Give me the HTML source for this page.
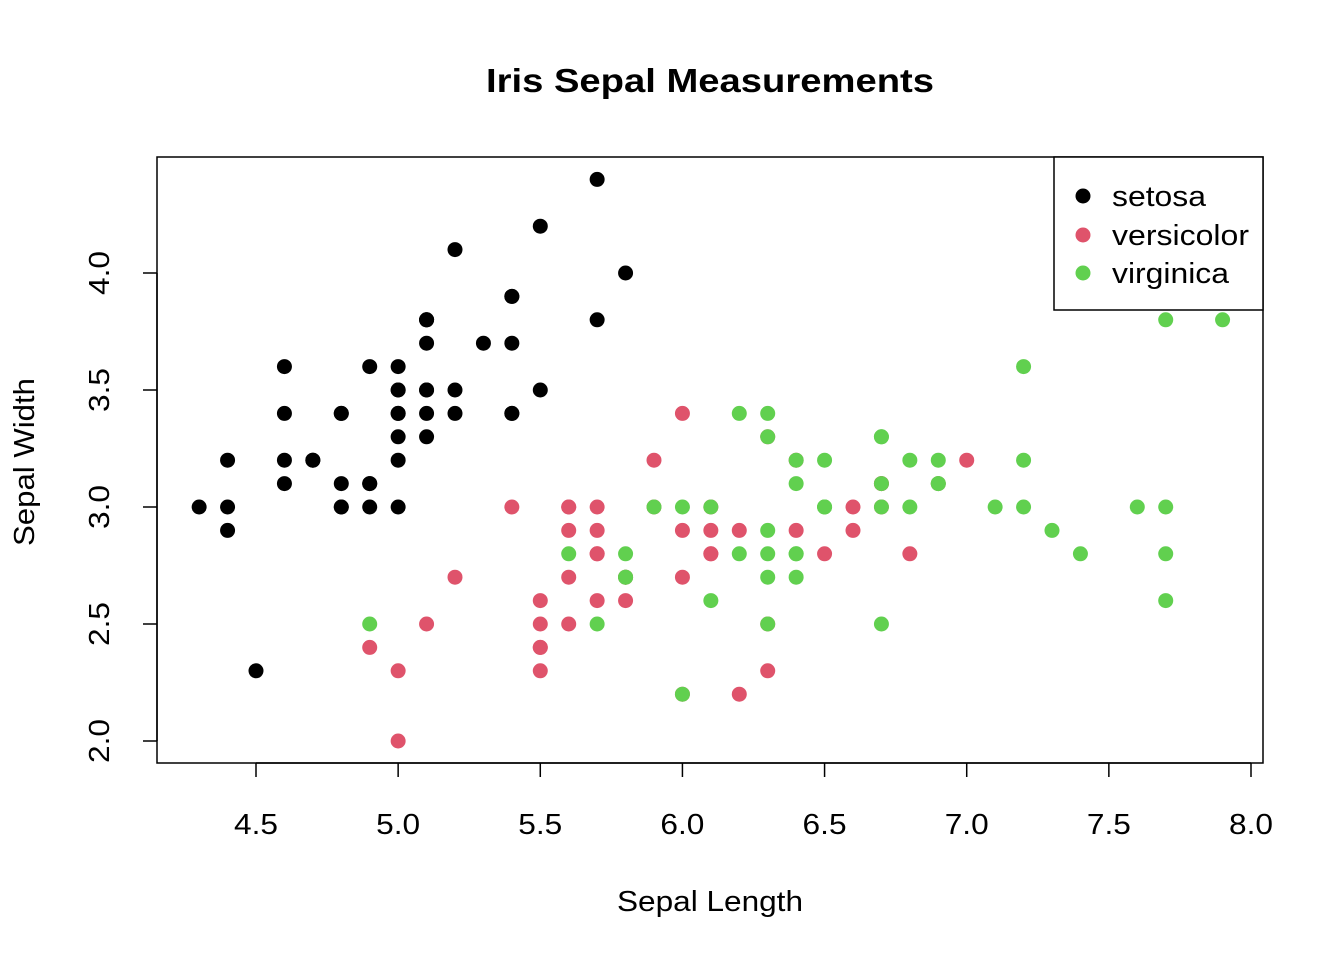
<!DOCTYPE html>
<html><head><meta charset="utf-8"><style>
html,body{margin:0;padding:0;background:#fff;}
svg{display:block;font-family:"Liberation Sans",Arial,sans-serif;}
</style></head><body>
<svg id="chart" width="1344" height="960" viewBox="0 0 1344 960">
<rect width="1344" height="960" fill="#fff"/>
<text x="710" y="92" text-anchor="middle" font-size="33" font-weight="bold" textLength="448" lengthAdjust="spacingAndGlyphs">Iris Sepal Measurements</text>
<text x="710" y="911" text-anchor="middle" font-size="29" textLength="186" lengthAdjust="spacingAndGlyphs">Sepal Length</text>
<text transform="translate(34,462) rotate(-90)" text-anchor="middle" font-size="29" textLength="168" lengthAdjust="spacingAndGlyphs">Sepal Width</text>
<g id="marks"></g>
<g id="axes"></g>
<rect x="157" y="157" width="1106" height="606" fill="none" stroke="#000" stroke-width="1.5"/>
<g>
<rect x="1054" y="157" width="209" height="153" fill="#fff" stroke="#000" stroke-width="1.5"/>
<g><circle cx="1083" cy="196" r="7.5" fill="#000"/><text x="1112" y="206" font-size="29" textLength="94" lengthAdjust="spacingAndGlyphs">setosa</text></g>
<g><circle cx="1083" cy="235" r="7.5" fill="#DF536B"/><text x="1112" y="245" font-size="29" textLength="137" lengthAdjust="spacingAndGlyphs">versicolor</text></g>
<g><circle cx="1083" cy="273" r="7.5" fill="#61D04F"/><text x="1112" y="283" font-size="29" textLength="117" lengthAdjust="spacingAndGlyphs">virginica</text></g>
</g>
</svg>
<script>
const setosaX=[5.1,4.9,4.7,4.6,5.0,5.4,4.6,5.0,4.4,4.9,5.4,4.8,4.8,4.3,5.8,5.7,5.4,5.1,5.7,5.1,5.4,5.1,4.6,5.1,4.8,5.0,5.0,5.2,5.2,4.7,4.8,5.4,5.2,5.5,4.9,5.0,5.5,4.9,4.4,5.1,5.0,4.5,4.4,5.0,5.1,4.8,5.1,4.6,5.3,5.0];
const setosaY=[3.5,3.0,3.2,3.1,3.6,3.9,3.4,3.4,2.9,3.1,3.7,3.4,3.0,3.0,4.0,4.4,3.9,3.5,3.8,3.8,3.4,3.7,3.6,3.3,3.4,3.0,3.4,3.5,3.4,3.2,3.1,3.4,4.1,4.2,3.1,3.2,3.5,3.6,3.0,3.4,3.5,2.3,3.2,3.5,3.8,3.0,3.8,3.2,3.7,3.3];
const versicolorX=[7.0,6.4,6.9,5.5,6.5,5.7,6.3,4.9,6.6,5.2,5.0,5.9,6.0,6.1,5.6,6.7,5.6,5.8,6.2,5.6,5.9,6.1,6.3,6.1,6.4,6.6,6.8,6.7,6.0,5.7,5.5,5.5,5.8,6.0,5.4,6.0,6.7,6.3,5.6,5.5,5.5,6.1,5.8,5.0,5.6,5.7,5.7,6.2,5.1,5.7];
const versicolorY=[3.2,3.2,3.1,2.3,2.8,2.8,3.3,2.4,2.9,2.7,2.0,3.0,2.2,2.9,2.9,3.1,3.0,2.7,2.2,2.5,3.2,2.8,2.5,2.8,2.9,3.0,2.8,3.0,2.9,2.6,2.4,2.4,2.7,2.7,3.0,3.4,3.1,2.3,3.0,2.5,2.6,3.0,2.6,2.3,2.7,3.0,2.9,2.9,2.5,2.8];
const virginicaX=[6.3,5.8,7.1,6.3,6.5,7.6,4.9,7.3,6.7,7.2,6.5,6.4,6.8,5.7,5.8,6.4,6.5,7.7,7.7,6.0,6.9,5.6,7.7,6.3,6.7,7.2,6.2,6.1,6.4,7.2,7.4,7.9,6.4,6.3,6.1,7.7,6.3,6.4,6.0,6.9,6.7,6.9,5.8,6.8,6.7,6.7,6.3,6.5,6.2,5.9];
const virginicaY=[3.3,2.7,3.0,2.9,3.0,3.0,2.5,2.9,2.5,3.6,3.2,2.7,3.0,2.5,2.8,3.2,3.0,3.8,2.6,2.2,3.2,2.8,2.8,2.7,3.3,3.2,2.8,3.0,2.8,3.0,2.8,3.8,2.8,2.8,2.6,3.0,3.4,3.1,3.0,3.1,3.1,3.1,2.7,3.2,3.3,3.0,2.5,3.0,3.4,3.0];
const xTicks=["4.5","5.0","5.5","6.0","6.5","7.0","7.5","8.0"];
const yTicks=["2.0","2.5","3.0","3.5","4.0"];
const NS="http://www.w3.org/2000/svg";
function sx(v){return 256+(v-4.5)*(1251-256)/3.5;}
function sy(v){return 741-(v-2.0)*(741-273)/2.0;}
const marks=document.getElementById('marks');
const axes=document.getElementById('axes');
function drawSeries(xs,ys,color,name){
  for(let i=0;i<xs.length;i++){
    const c=document.createElementNS(NS,'circle');
    c.setAttribute('cx',sx(xs[i]));c.setAttribute('cy',sy(ys[i]));
    c.setAttribute('r',7.5);c.setAttribute('fill',color);
    
    
    marks.appendChild(c);
  }
}
drawSeries(setosaX,setosaY,'#000','setosa');
drawSeries(versicolorX,versicolorY,'#DF536B','versicolor');
drawSeries(virginicaX,virginicaY,'#61D04F','virginica');
function line(x1,y1,x2,y2){const l=document.createElementNS(NS,'line');l.setAttribute('x1',x1);l.setAttribute('y1',y1);l.setAttribute('x2',x2);l.setAttribute('y2',y2);l.setAttribute('stroke','#000');l.setAttribute('stroke-width','1.5');return l;}
const xa=line(sx(+xTicks[0]),763,sx(+xTicks[xTicks.length-1]),763);


axes.appendChild(xa);
xTicks.forEach(t=>{
  const x=sx(+t);
  const tk=line(x,763,x,777);
  
  
  axes.appendChild(tk);
  const tx=document.createElementNS(NS,'text');
  tx.setAttribute('x',x);tx.setAttribute('y',834);tx.setAttribute('text-anchor','middle');tx.setAttribute('font-size','29');
  tx.setAttribute('textLength','44');tx.setAttribute('lengthAdjust','spacingAndGlyphs');
  tx.textContent=t;
  
  
  axes.appendChild(tx);
});
const ya=line(157,sy(+yTicks[0]),157,sy(+yTicks[yTicks.length-1]));


axes.appendChild(ya);
yTicks.forEach(t=>{
  const y=sy(+t);
  const tk=line(143,y,157,y);
  
  
  axes.appendChild(tk);
  const tx=document.createElementNS(NS,'text');
  tx.setAttribute('transform','translate(109,'+y+') rotate(-90)');tx.setAttribute('text-anchor','middle');tx.setAttribute('font-size','29');
  tx.setAttribute('textLength','44');tx.setAttribute('lengthAdjust','spacingAndGlyphs');
  tx.textContent=t;
  
  
  axes.appendChild(tx);
});
</script>
</body></html>
